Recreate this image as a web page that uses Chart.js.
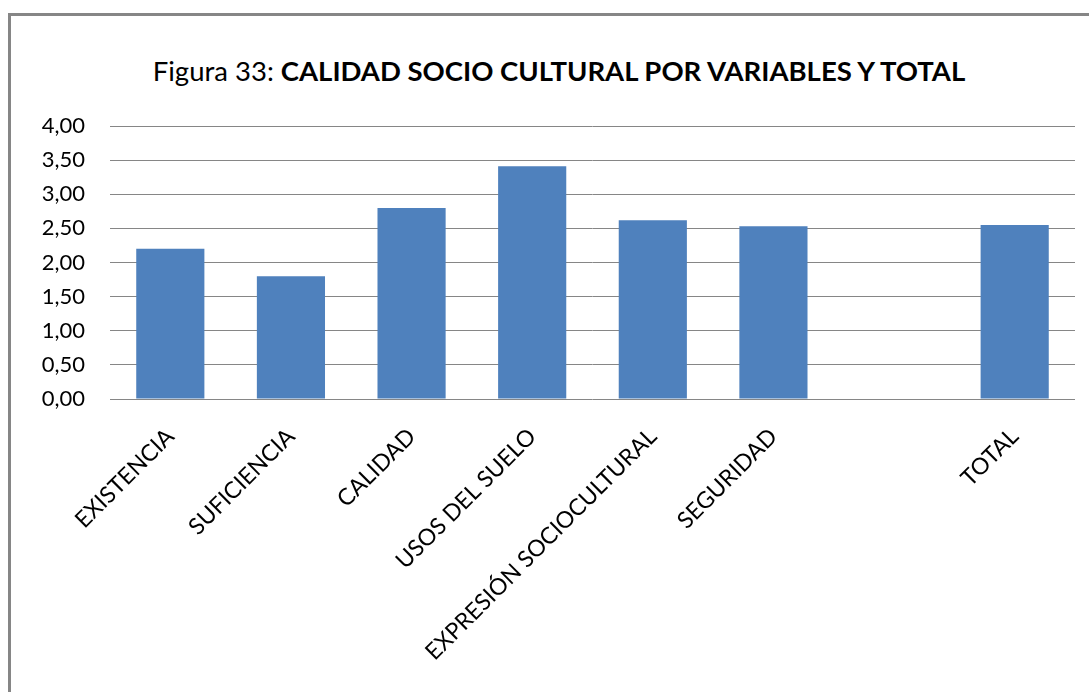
<!DOCTYPE html>
<html>
<head>
<meta charset="utf-8">
<script src="https://cdn.jsdelivr.net/npm/chart.js@4/dist/chart.umd.min.js"></script>
<style>
  body { margin: 0; background: #fff; }
  #wrap { position: relative; width: 1089px; height: 692px; overflow: hidden; }
  #frame { position: absolute; left: 8px; top: 13px; width: 1200px; height: 800px; border: 3px solid #868686; box-sizing: border-box; }
  #title { position: absolute; left: 0; top: 54px; width: 1118px; text-align: center; font-family: Lato, sans-serif; font-size: 27.5px; color: #000; }
  #title b { font-weight: bold; }
  canvas { position: absolute; left: 0; top: 0; }
</style>
</head>
<body>
<div id="wrap">
  <div id="frame"></div>
  <div id="title">Figura 33: <b>CALIDAD SOCIO CULTURAL POR VARIABLES Y TOTAL</b></div>
  <canvas id="grafico" width="1089" height="692"></canvas>
</div>
<script>
// Datos del gráfico
const categorias = ['EXISTENCIA', 'SUFICIENCIA', 'CALIDAD', 'USOS DEL SUELO', 'EXPRESIÓN SOCIOCULTURAL', 'SEGURIDAD', '', 'TOTAL'];
const valores = [2.20, 1.80, 2.80, 3.41, 2.62, 2.53, null, 2.55];
const ticksY = [0, 0.5, 1, 1.5, 2, 2.5, 3, 3.5, 4];

const ctx = document.getElementById('grafico').getContext('2d');
const chart = new Chart(ctx, {
  type: 'bar',
  data: {
    labels: categorias,
    datasets: [{
      data: valores,
      backgroundColor: '#4F81BD',
      categoryPercentage: 1,
      barPercentage: 0.565
    }]
  },
  options: {
    responsive: false,
    animation: false,
    layout: { padding: { top: 126, right: 14, left: 0, bottom: 0 } },
    plugins: { legend: { display: false }, tooltip: { enabled: false } },
    scales: {
      x: {
        grid: { display: false },
        border: { display: false },
        ticks: {
          maxRotation: 45, minRotation: 45, autoSkip: false, padding: 16,
          color: '#000', font: { family: 'Lato', size: 23 }
        },
        afterFit: axis => { axis.height = 293; }
      },
      y: {
        min: 0, max: 4,
        afterBuildTicks: axis => { axis.ticks = ticksY.map(v => ({ value: v })); },
        grid: { color: '#868686', lineWidth: 1, drawTicks: false },
        border: { display: false },
        ticks: {
          padding: 25,
          color: '#000', font: { family: 'Lato', size: 22 },
          callback: v => v.toFixed(2).replace('.', ',')
        },
        afterFit: axis => { axis.width = 110; }
      }
    }
  }
});
</script>
</body>
</html>
